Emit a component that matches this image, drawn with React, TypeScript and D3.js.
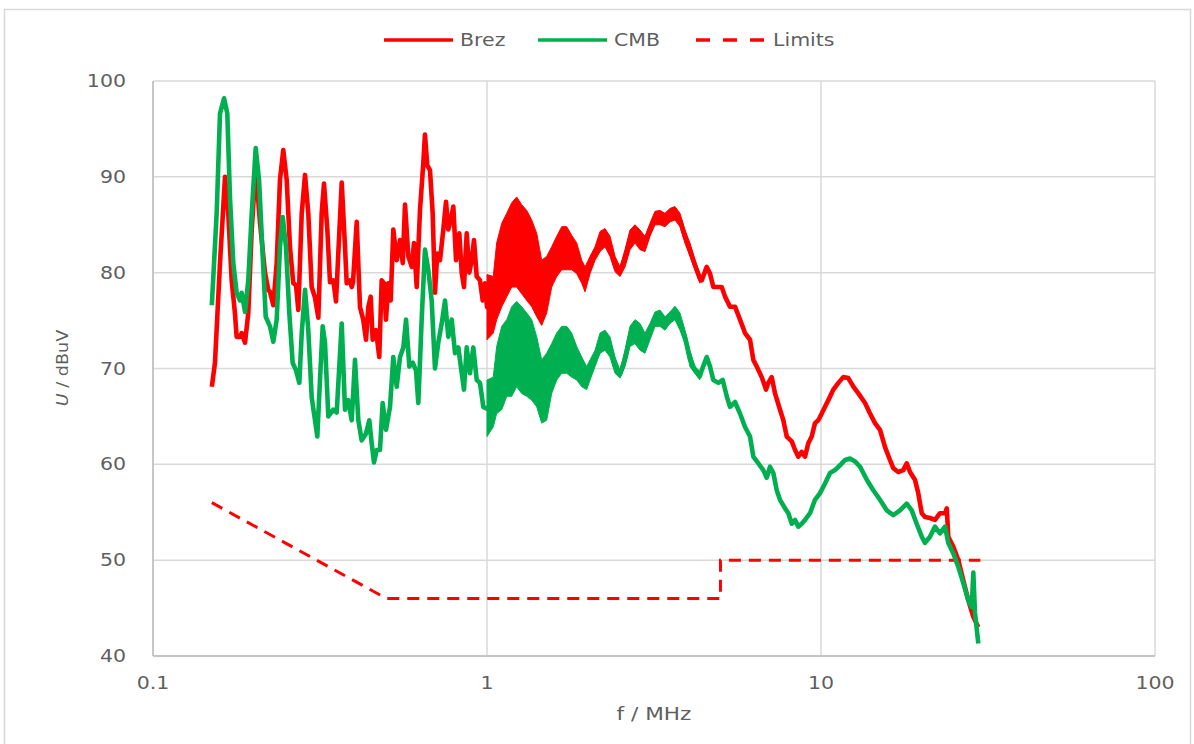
import React from "react";
import * as d3 from "d3";

// ---------- data (f in MHz, level in dBuV) ----------
const xTicks = [0.1, 1, 10, 100];
const xTickLabels = ["0.1", "1", "10", "100"];
const yTicks = [40, 50, 60, 70, 80, 90, 100];

const limitFreq = [0.15, 0.5, 5, 5, 30];
const limitLevel = [56, 46, 46, 50, 50];

const brezFreq = [
  0.15, 0.1533, 0.1587, 0.1643, 0.168, 0.172, 0.1759, 0.178, 0.1822, 0.1843, 0.1886, 0.1929, 0.1975,
  0.203, 0.2091, 0.2164, 0.2214, 0.224, 0.2292, 0.2346, 0.24, 0.2455, 0.2513, 0.2571, 0.263, 0.268,
  0.2723, 0.2788, 0.2852, 0.2917, 0.2986, 0.3055, 0.3126, 0.3199, 0.3251, 0.3326, 0.3388, 0.3466,
  0.3531, 0.3673, 0.3757, 0.3801, 0.3888, 0.3935, 0.397, 0.4073, 0.4166, 0.4261, 0.4342, 0.4411,
  0.4485, 0.4547, 0.4652, 0.4758, 0.4838, 0.4915, 0.4984, 0.5064, 0.5148, 0.5242, 0.5366, 0.549,
  0.5594, 0.5683, 0.5814, 0.5952, 0.6046, 0.616, 0.63, 0.6445, 0.652, 0.6625, 0.6749, 0.6876, 0.6986,
  0.7098, 0.7232, 0.74, 0.7538, 0.7659, 0.7787, 0.7929, 0.8078, 0.8262, 0.84, 0.8533, 0.8694, 0.8851,
  0.9, 0.9143, 0.9315, 0.9528, 0.9707, 0.9863,
  1.0, 1.044, 1.069, 1.107, 1.146, 1.186, 1.227, 1.27, 1.315, 1.361, 1.409, 1.458, 1.509, 1.562, 1.617,
  1.674, 1.732, 1.793, 1.856, 1.921, 1.966, 2.035, 2.106, 2.18, 2.256, 2.335, 2.417, 2.502, 2.589, 2.68,
  2.774, 2.871, 2.972, 3.076, 3.184, 3.295, 3.411, 3.53, 3.654, 3.782, 3.914, 4.051, 4.193, 4.339,
  4.393, 4.548, 4.653, 4.76, 4.927, 5.044, 5.16, 5.34, 5.527, 5.722, 5.923, 6.131, 6.272, 6.421, 6.646,
  6.845, 6.954, 7.119, 7.283, 7.539, 7.713, 7.897, 8.174, 8.362, 8.551, 8.755, 8.957, 9.162, 9.38,
  9.594, 9.815, 10.05, 10.28, 10.52, 10.89, 11.27, 11.66, 12.07, 12.5, 12.94, 13.55, 14.02, 14.51,
  15.02, 15.55, 16.09, 16.46, 17.03, 17.63, 18.06, 18.47, 19.11, 19.55, 20.03, 20.48, 21.2, 21.94,
  22.71, 23.51, 23.8, 24.05, 24.9, 25.77, 26.67, 27.61, 28.58, 29.58,
];
const brezLevel = [
  68.1, 70.6, 81.0, 90.0, 86.2, 79.2, 75.8, 73.3, 73.3, 73.7, 72.7, 75.8, 84.5,
  91.0, 85.2, 80.0, 78.2, 78.0, 76.6, 81.0, 89.7, 92.8, 89.7, 82.7, 78.9, 78.7,
  76.1, 86.2, 90.2, 86.2, 78.5, 77.4, 75.3, 86.2, 89.3, 84.5, 79.0, 79.2,
  77.0, 89.4, 82.7, 78.9, 79.2, 78.5, 79.0, 85.3, 76.4, 75.1, 73.0, 76.4,
  77.5, 73.0, 74.0, 71.2, 79.2, 78.9, 75.1, 78.9, 77.1, 84.5, 81.3, 83.4,
  81.0, 87.1, 81.7, 80.6, 83.1, 78.5, 86.5, 91.4, 94.4, 91.2, 90.7, 86.2, 77.9,
  82.0, 81.3, 84.5, 87.4, 84.5, 85.5, 86.9, 81.3, 84.1, 80.0, 78.5, 84.1, 80.0,
  81.3, 83.4, 79.6, 79.2, 77.1, 78.9,
  76.4, 76.6, 79.1, 80.8, 81.9, 82.9, 83.2, 82.5, 81.8, 81.0, 79.8, 77.9, 78.8, 80.6, 81.7,
  82.5, 82.5, 82.1, 81.5, 80.1, 79.3, 80.8, 82.0, 83.2, 83.6, 82.7, 80.9, 80.1, 81.5, 83.4,
  84.0, 83.4, 83.0, 84.5, 85.7, 85.7, 85.5, 86.0, 86.2, 85.5, 83.8, 82.4, 80.8, 79.4,
  79.2, 80.6, 79.9, 78.5, 78.5, 78.5, 77.5, 76.45, 76.45, 75.1, 73.7, 73.0, 70.9, 70.2, 69.1,
  67.8, 68.5, 69.1, 67.4, 65.7, 64.6, 62.9, 62.4, 61.5, 60.8, 61.3, 60.8, 62.2, 62.9,
  64.3, 64.6, 65.3, 66.0, 66.7, 67.8, 68.5, 69.1, 69.0, 68.1, 67.4, 66.4, 65.3, 64.3,
  63.6, 61.8, 60.45, 59.6, 59.2, 59.4, 60.1, 59.2, 58.4, 57.0, 54.9, 54.5, 54.4, 54.2,
  54.9, 54.9, 55.4, 52.45, 51.4, 50.0, 47.9, 45.8, 44.1, 43.0,
];
// thick ripple band of Brez: frequency, low edge, high edge
const brezBandFreq = [
  1.0, 1.044, 1.069, 1.107, 1.146, 1.186, 1.227, 1.27, 1.315, 1.361, 1.409, 1.458, 1.509, 1.562, 1.617,
  1.674, 1.732, 1.793, 1.856, 1.921, 1.966, 2.035, 2.106, 2.18, 2.256, 2.335, 2.417, 2.502, 2.589, 2.68,
  2.774, 2.871, 2.972, 3.076, 3.184, 3.295, 3.411, 3.53, 3.654, 3.782, 3.914, 4.051, 4.193, 4.339,
];
const brezBandLow = [
  73.0, 73.7, 75.1, 76.45, 77.5, 78.5, 78.5, 77.8, 77.1, 76.45, 75.4, 74.5, 75.8, 78.5, 79.6,
  80.3, 80.3, 80.3, 79.9, 78.9, 78.0, 79.9, 81.3, 82.2, 82.7, 81.7, 80.1, 79.6, 80.6, 82.4,
  83.1, 82.4, 82.2, 83.8, 85.0, 85.0, 84.8, 85.3, 85.5, 84.8, 83.1, 81.7, 80.3, 78.9,
];
const brezBandHigh = [
  79.8, 79.6, 83.1, 85.15, 86.2, 87.3, 87.9, 87.1, 86.5, 85.5, 84.1, 81.3, 81.7, 82.7, 83.8,
  84.8, 84.8, 83.9, 83.1, 81.3, 80.6, 81.7, 82.7, 84.3, 84.6, 83.8, 81.7, 80.6, 82.4, 84.45,
  85.0, 84.45, 83.8, 85.15, 86.4, 86.5, 86.2, 86.7, 86.9, 86.2, 84.45, 83.1, 81.3, 79.9,
];

const cmbFreq = [
  0.15, 0.1551, 0.1587, 0.1632, 0.1669, 0.17, 0.1739, 0.178, 0.1822, 0.1843, 0.1886, 0.1929, 0.1975,
  0.203, 0.2077, 0.2124, 0.2175, 0.224, 0.2292, 0.2346, 0.24, 0.2445, 0.2501, 0.2559, 0.2619, 0.268,
  0.2742, 0.2788, 0.2852, 0.2917, 0.2986, 0.3055, 0.3104, 0.3162, 0.3221, 0.3273, 0.3349, 0.3466,
  0.3548, 0.3673, 0.3757, 0.3843, 0.3935, 0.4025, 0.4118, 0.4215, 0.4342, 0.4442, 0.4516, 0.4588,
  0.4674, 0.4781, 0.4871, 0.4984, 0.5124, 0.5242, 0.5366, 0.549, 0.5617, 0.5723, 0.5854, 0.5992,
  0.613, 0.6228, 0.6374, 0.652, 0.6671, 0.6829, 0.6986, 0.7147, 0.7318, 0.7487, 0.7659, 0.7841,
  0.8022, 0.8205, 0.84, 0.8533, 0.8694, 0.8894, 0.9099, 0.9315, 0.9528, 0.9748,
  1.0, 1.044, 1.069, 1.107, 1.146, 1.186, 1.227, 1.27, 1.315, 1.361, 1.409, 1.458, 1.509, 1.562, 1.617,
  1.674, 1.732, 1.793, 1.856, 1.921, 1.988, 2.035, 2.106, 2.18, 2.256, 2.335, 2.417, 2.502, 2.589, 2.68,
  2.774, 2.871, 2.972, 3.076, 3.184, 3.295, 3.411, 3.53, 3.654, 3.782, 3.914, 4.051, 4.193, 4.339,
  4.393, 4.548, 4.653, 4.76, 4.927, 5.079, 5.221, 5.34, 5.527, 5.722, 5.923, 6.131, 6.272, 6.493,
  6.719, 6.878, 7.037, 7.199, 7.37, 7.539, 7.805, 7.985, 8.174, 8.362, 8.551, 8.755, 8.957, 9.27,
  9.594, 9.931, 10.28, 10.64, 11.01, 11.4, 11.8, 12.21, 12.64, 13.09, 13.71, 14.34, 15.02, 15.73,
  16.46, 17.24, 18.06, 18.69, 19.34, 20.03, 20.48, 21.2, 21.94, 22.71, 23.51, 24.05, 24.9, 25.77,
  26.67, 27.61, 28.27, 28.58, 28.91, 29.58,
];
const cmbLevel = [
  76.6, 86.2, 96.6, 98.2, 96.6, 87.9, 81.0, 77.9, 77.1, 77.9, 75.9, 79.2, 86.2,
  93.0, 89.7, 82.7, 75.4, 74.4, 72.8, 75.1, 82.7, 85.8, 82.7, 75.8, 70.6, 69.8,
  68.5, 73.7, 78.2, 74.0, 67.0, 64.6, 62.9, 68.8, 74.4, 72.7, 65.0, 65.7,
  65.4, 74.7, 65.7, 66.7, 64.6, 70.9, 64.6, 62.5, 63.2, 64.6, 62.2, 60.2,
  61.5, 61.5, 66.4, 63.6, 66.0, 71.2, 68.1, 71.2, 72.2, 75.1, 70.2, 70.6,
  69.8, 66.4, 75.1, 82.4, 80.3, 77.1, 70.0, 72.7, 74.7, 77.1, 73.3, 75.1,
  71.6, 72.2, 69.5, 67.8, 72.2, 69.5, 72.2, 68.8, 68.5, 66.0,
  65.8, 66.5, 68.8, 70.0, 71.1, 71.8, 72.5, 71.9, 71.4, 70.9, 69.6, 67.6, 68.1, 70.0, 71.2,
  71.9, 71.9, 71.4, 70.5, 69.6, 69.0, 69.8, 71.0, 72.6, 73.0, 72.2, 70.3, 69.4, 71.0, 73.3,
  73.8, 73.3, 72.6, 73.8, 75.1, 75.2, 74.7, 75.3, 75.8, 74.9, 73.3, 71.0, 69.8, 69.2,
  69.8, 71.2, 70.2, 68.8, 68.5, 68.8, 67.1, 66.0, 66.5, 65.3, 63.9, 62.9, 60.8, 60.1,
  59.4, 58.6, 59.75, 59.1, 57.3, 56.3, 55.4, 54.9, 53.8, 54.2, 53.5, 53.8, 54.2, 54.9,
  56.3, 57.0, 58.0, 59.1, 59.4, 59.9, 60.45, 60.6, 60.3, 59.75, 58.4, 57.3, 56.3, 55.2,
  54.7, 55.2, 55.9, 55.2, 53.8, 52.45, 51.8, 52.45, 53.5, 52.8, 53.5, 51.8, 50.7, 49.3,
  47.6, 45.8, 45.1, 48.7, 44.5, 41.3,
];
const cmbBandFreq = [
  1.0, 1.044, 1.069, 1.107, 1.146, 1.186, 1.227, 1.27, 1.315, 1.361, 1.409, 1.458, 1.509, 1.562, 1.617,
  1.674, 1.732, 1.793, 1.856, 1.921, 1.988, 2.035, 2.106, 2.18, 2.256, 2.335, 2.417, 2.502, 2.589, 2.68,
  2.774, 2.871, 2.972, 3.076, 3.184, 3.295, 3.411, 3.53, 3.654, 3.782, 3.914, 4.051, 4.193, 4.339,
];
const cmbBandLow = [
  62.9, 63.9, 65.3, 65.7, 67.1, 67.1, 68.1, 67.4, 67.1, 66.7, 66.0, 64.3, 64.6, 67.4, 68.8,
  69.5, 69.5, 69.1, 68.8, 68.1, 67.8, 68.8, 70.2, 71.6, 71.9, 71.2, 69.5, 69.0, 70.2, 72.3,
  72.6, 71.9, 71.6, 73.0, 74.4, 74.4, 74.0, 74.7, 75.1, 74.0, 72.6, 70.2, 69.5, 68.8,
];
const cmbBandHigh = [
  68.8, 69.1, 72.3, 74.4, 75.1, 76.45, 77.0, 76.45, 75.8, 75.1, 73.3, 70.9, 71.6, 72.6, 73.7,
  74.4, 74.4, 73.7, 72.3, 71.2, 70.2, 70.9, 71.9, 73.7, 74.0, 73.3, 71.2, 69.8, 71.9, 74.4,
  75.1, 74.7, 73.7, 74.7, 75.9, 76.1, 75.4, 75.9, 76.5, 75.8, 74.0, 71.9, 70.2, 69.7,
];

// ---------- layout ----------
const W = 1194;
const H = 744;
const PLOT = { left: 153, right: 1155, top: 81, bottom: 656 };
const RED = "#ff0000";
const GREEN = "#00b050";
const TEXT = "#5f5f5f";
const GRID = "#d9d9d9";
const FONT = "DejaVu Sans, Verdana, sans-serif";
const SX = 1.14;

function Txt(props: {
  x: number; y: number; size: number; anchor?: string; rotate?: number; children: React.ReactNode; sx?: number;
}) {
  const { x, y, size, anchor = "start", rotate = 0, children, sx = SX } = props;
  return (
    <text
      transform={`translate(${x},${y}) rotate(${rotate}) scale(${sx},1)`}
      fontFamily={FONT}
      fontSize={size}
      fill={TEXT}
      textAnchor={anchor}
      dominantBaseline="central"
    >
      {children}
    </text>
  );
}

export default function App() {
  const x = d3.scaleLog().domain([0.1, 100]).range([PLOT.left, PLOT.right]);
  const y = d3.scaleLinear().domain([40, 100]).range([PLOT.bottom, PLOT.top]);

  const line = d3
    .line<[number, number]>()
    .x((d) => x(d[0]))
    .y((d) => y(d[1]));
  const area = d3
    .area<[number, number, number]>()
    .x((d) => x(d[0]))
    .y0((d) => y(d[1]))
    .y1((d) => y(d[2]));

  const zip2 = (a: number[], b: number[]) => a.map((v, i) => [v, b[i]] as [number, number]);
  const zip3 = (a: number[], b: number[], c: number[]) =>
    a.map((v, i) => [v, b[i], c[i]] as [number, number, number]);

  const brez = zip2(brezFreq, brezLevel);
  const cmb = zip2(cmbFreq, cmbLevel);
  const limits = zip2(limitFreq, limitLevel);
  const brezBand = zip3(brezBandFreq, brezBandLow, brezBandHigh);
  const cmbBand = zip3(cmbBandFreq, cmbBandLow, cmbBandHigh);

  return (
    <svg
      width={W}
      height={H}
      style={{ position: "absolute", left: 0, top: 0, background: "#fff" }}
    >
      <rect x={4.5} y={9.5} width={1186} height={740} fill="#fff" stroke={GRID} strokeWidth={1.5} />

      {/* grid */}
      {yTicks.map((t) => (
        <line key={"gy" + t} x1={PLOT.left} x2={PLOT.right} y1={y(t)} y2={y(t)} stroke={GRID} strokeWidth={1.5} />
      ))}
      {xTicks.map((t) => (
        <line key={"gx" + t} x1={x(t)} x2={x(t)} y1={PLOT.top} y2={PLOT.bottom} stroke={GRID} strokeWidth={1.5} />
      ))}
      <line x1={PLOT.left} x2={PLOT.left} y1={PLOT.top} y2={PLOT.bottom} stroke="#c4c4c4" strokeWidth={1.8} />
      <line x1={PLOT.left} x2={PLOT.right} y1={PLOT.bottom} y2={PLOT.bottom} stroke="#c4c4c4" strokeWidth={1.8} />

      {/* ticks */}
      {yTicks.map((t) => (
        <Txt key={"ty" + t} x={126} y={y(t)} size={18} anchor="end">
          {String(t)}
        </Txt>
      ))}
      {xTicks.map((t, i) => (
        <Txt key={"tx" + t} x={x(t)} y={683} size={18} anchor="middle">
          {xTickLabels[i]}
        </Txt>
      ))}
      <Txt x={654} y={714} size={18} anchor="middle" sx={1.2}>
        f / MHz
      </Txt>
      <text
        transform={`translate(62,368) rotate(-90) scale(1.1,1)`}
        fontFamily={FONT}
        fontSize={16}
        fill={TEXT}
        textAnchor="middle"
        dominantBaseline="central"
      >
        <tspan fontStyle="italic">U</tspan> / dBuV
      </text>

      {/* series */}
      <path d={line(limits) || ""} fill="none" stroke={RED} strokeWidth={3} strokeDasharray="12,8" />
      <path d={area(brezBand) || ""} fill={RED} stroke={RED} strokeWidth={1} />
      <path d={line(brez) || ""} fill="none" stroke={RED} strokeWidth={4.6} strokeLinejoin="round" />
      <path d={area(cmbBand) || ""} fill={GREEN} stroke={GREEN} strokeWidth={1} />
      <path d={line(cmb) || ""} fill="none" stroke={GREEN} strokeWidth={4.6} strokeLinejoin="round" />

      {/* legend */}
      <line x1={384} x2={453} y1={40} y2={40} stroke={RED} strokeWidth={3.5} />
      <Txt x={460} y={40} size={18}>Brez</Txt>
      <line x1={538} x2={607} y1={40} y2={40} stroke={GREEN} strokeWidth={3.5} />
      <Txt x={614} y={40} size={18}>CMB</Txt>
      <line x1={696} x2={764} y1={40} y2={40} stroke={RED} strokeWidth={3.5} strokeDasharray="14,13" />
      <Txt x={773} y={40} size={18}>Limits</Txt>
    </svg>
  );
}
